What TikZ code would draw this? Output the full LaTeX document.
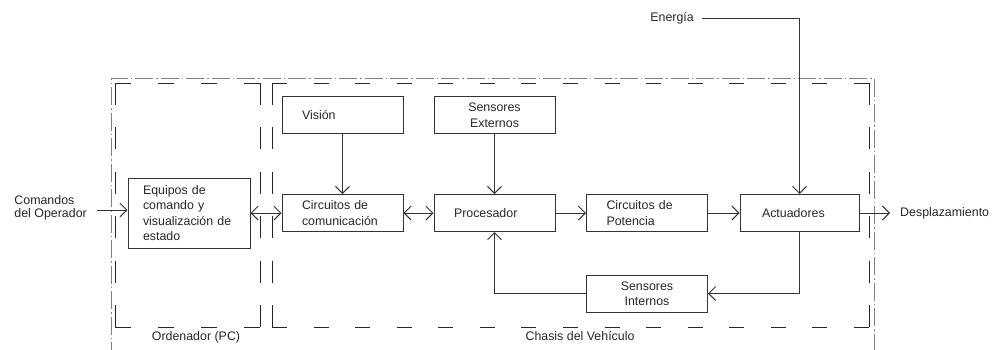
\documentclass[tikz,border=0pt]{standalone}
\usepackage{fontspec}
\setmainfont{Liberation Sans}
\usetikzlibrary{arrows.meta}
\begin{document}
\begin{tikzpicture}[x=1pt,y=-1pt,
  every node/.style={font=\fontsize{12.4pt}{15.5pt}\selectfont, text=black!85},
  box/.style={draw=black!80, line width=1pt, minimum height=37pt, inner xsep=20pt,
              inner ysep=0pt, text width=81pt, align=left},
  cbox/.style={box, align=center},
  link/.style={draw=black!80, line width=0.9pt, -{Straight Barb[length=7pt,width=14pt]}},
  blink/.style={link, {Straight Barb[length=7pt,width=14pt]}-{Straight Barb[length=7pt,width=14pt]}},
  frameline/.style={draw=black!85, line width=0.9pt},
  % dash patterns sized so every side starts and ends on a dash
  hshort/.style={frameline, dash pattern=on 16pt off 27pt},
  hlong/.style={frameline, dash pattern=on 15pt off 26.57pt},
  vside/.style={frameline, dash pattern=on 22pt off 22.4pt},
  outer/.style={draw=black!50, line width=1pt, dash pattern=on 18pt off 3pt on 1.5pt off 3pt},
]
\useasboundingbox (0,0) rectangle (997,349);

% outer system boundary (open at the bottom)
\begin{scope}
  \clip (0,0) rectangle (997,349);
  \draw[outer] (111,360) -- (111,78) -- (874,78) -- (874,360);
\end{scope}

% sub-system frames, each side drawn on its own so the corners stay solid
\coordinate (o1) at (115,83);  \coordinate (o2) at (260,83);
\coordinate (o3) at (260,327); \coordinate (o4) at (115,327);
\coordinate (c1) at (272,83);  \coordinate (c2) at (869,83);
\coordinate (c3) at (869,327); \coordinate (c4) at (272,327);
\draw[hshort] (o1) -- (o2);  \draw[hshort] (o4) -- (o3);
\draw[vside] (o1) -- (o4);   \draw[vside] (o2) -- (o3);
\draw[hlong] (c1) -- (c2);   \draw[hlong] (c4) -- (c3);
\draw[vside] (c1) -- (c4);   \draw[vside] (c2) -- (c3);
\node (ord) at (196,337) {Ordenador (PC)};
\node (cha) at (580,336) {Chasis del Vehículo};

% blocks
\node[box, minimum height=70pt, inner xsep=15pt, text width=92pt] (eq) at (189,213)
  {Equipos de\\comando y\\visualización de\\estado};
\node[box] (vis) at (342.5,115) {Visión};
\node[cbox] (ext) at (494.5,115) {Sensores\\Externos};
\node[box] (com) at (342.5,213) {Circuitos de\\comunicación};
\node[box] (proc) at (494.5,213) {Procesador};
\node[box] (pot) at (647,213) {Circuitos de\\Potencia};
\node[box, inner xsep=22pt, text width=75pt] (act) at (799.5,213) {Actuadores};
\node[cbox] (si) at (647,293.5) {Sensores\\Internos};

% external inputs and outputs
\node[anchor=east, inner xsep=10pt, align=left,
      font=\fontsize{12.4pt}{12.7pt}\selectfont] (cmd) at (97,208) {Comandos\\del Operador};
\coordinate (cin) at (97,210);
\node[anchor=east, inner xsep=8pt] (en) at (702,18) {Energía};
\node[anchor=west, inner xsep=10pt] (des) at (890,213) {Desplazamiento};

% connectors
\draw[link] (cin) -- (cin -| eq.west);
\draw[blink] (eq) -- (com);
\draw[link] (vis) -- (com);
\draw[link] (ext) -- (proc);
\draw[blink] (com) -- (proc);
\draw[link] (proc) -- (pot);
\draw[link] (pot) -- (act);
\draw[link] (en.east) -| (act.north);
\draw[link] (act) -- (des);
\draw[link] (act.south) |- (si.east);
\draw[link] (si.west) -| (proc.south);
\end{tikzpicture}
\end{document}
